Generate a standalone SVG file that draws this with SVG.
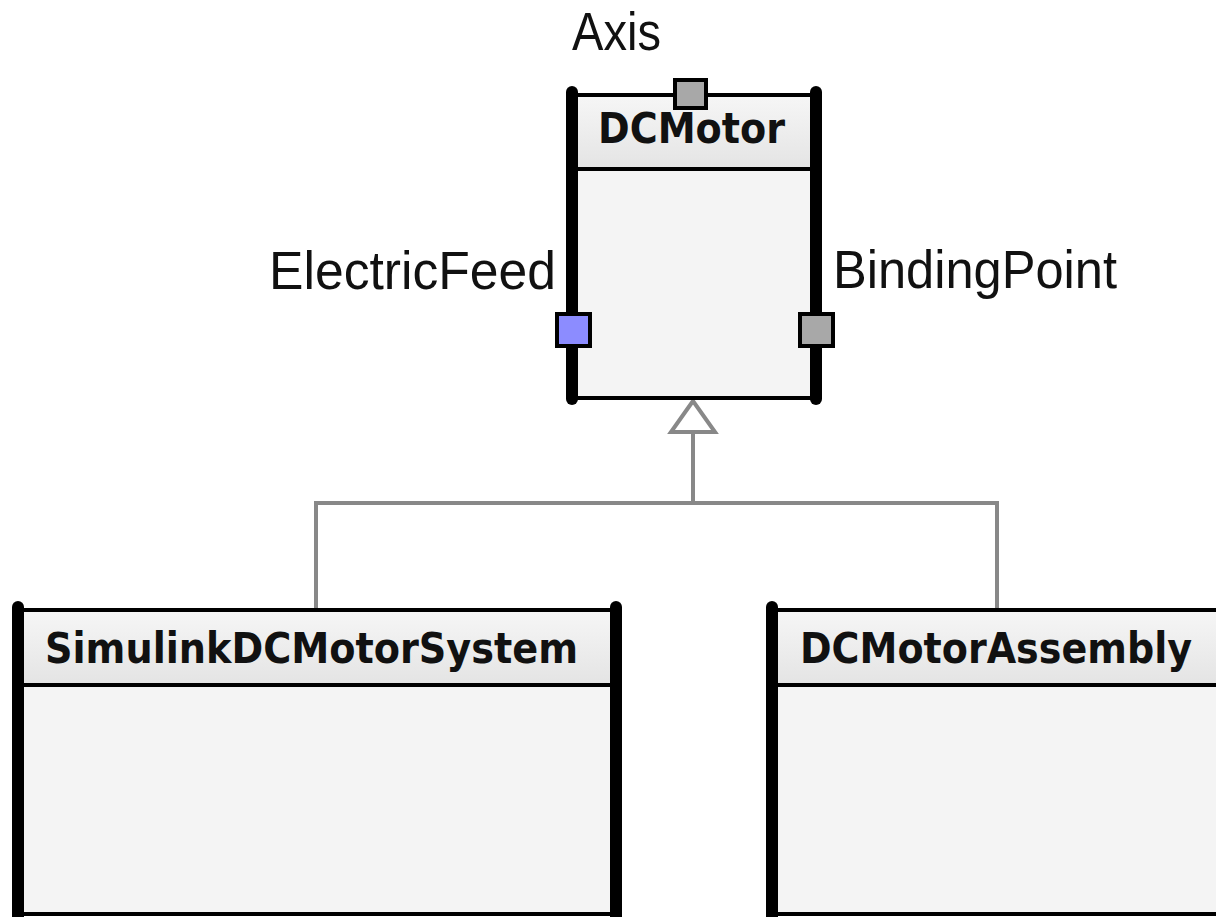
<svg xmlns="http://www.w3.org/2000/svg" width="1216" height="917" viewBox="0 0 1216 917">
<defs>
<linearGradient id="hdrGrad" x1="0" y1="0" x2="0" y2="1">
<stop offset="0" stop-color="#f6f6f6"/>
<stop offset="1" stop-color="#e4e4e4"/>
</linearGradient>
<style>
.body{fill:#f4f4f4;stroke:#000;stroke-width:4}
.hdr{fill:url(#hdrGrad);stroke:#000;stroke-width:4}
.bar{stroke:#000;stroke-width:12;stroke-linecap:round;fill:none}
.title{font-family:"DejaVu Sans","Liberation Sans",sans-serif;font-weight:bold;font-size:42px;fill:#111}
.label{font-family:"Liberation Sans","Arial",sans-serif;font-size:54px;fill:#111}
.port{stroke:#000;stroke-width:4}
.gray{fill:#a8a8a8}
.blue{fill:#8c8cff}
.conn{fill:none;stroke:#888;stroke-width:4}
</style>
</defs>
<rect width="1216" height="917" fill="#fff"/>

<g id="connectors">
<path class="conn" d="M693,432 V503 M316,610 V503 H997 V610"/>
<polygon points="693,401 671,432 715,432" fill="#fff" stroke="#888" stroke-width="4" stroke-linejoin="miter"/>
</g>

<g id="DCMotor">
<rect class="body" x="572" y="95" width="244" height="303"/>
<rect class="hdr" x="572" y="95" width="244" height="74"/>
<line class="bar" x1="572" y1="92" x2="572" y2="399"/>
<line class="bar" x1="816" y1="92" x2="816" y2="399"/>
<text class="title" x="598" y="143" textLength="187" lengthAdjust="spacingAndGlyphs">DCMotor</text>
<rect id="port-axis" class="port gray" x="675" y="80" width="31" height="28"/>
<rect id="port-electricfeed" class="port blue" x="557" y="314" width="33" height="32"/>
<rect id="port-bindingpoint" class="port gray" x="800" y="314" width="33" height="32"/>
<text class="label" x="572" y="50" textLength="89" lengthAdjust="spacingAndGlyphs">Axis</text>
<text class="label" x="269" y="289" textLength="287" lengthAdjust="spacingAndGlyphs">ElectricFeed</text>
<text class="label" x="833" y="288" textLength="284" lengthAdjust="spacingAndGlyphs">BindingPoint</text>
</g>

<g id="SimulinkDCMotorSystem">
<rect class="body" x="18" y="610" width="598" height="304"/>
<rect class="hdr" x="18" y="610" width="598" height="75"/>
<line class="bar" x1="18" y1="607" x2="18" y2="917"/>
<line class="bar" x1="616" y1="607" x2="616" y2="917"/>
<text class="title" x="45" y="663" textLength="533" lengthAdjust="spacingAndGlyphs">SimulinkDCMotorSystem</text>
</g>

<g id="DCMotorAssembly">
<rect class="body" x="772" y="610" width="500" height="304"/>
<rect class="hdr" x="772" y="610" width="500" height="75"/>
<line class="bar" x1="772" y1="607" x2="772" y2="917"/>
<text class="title" x="800" y="663" textLength="392" lengthAdjust="spacingAndGlyphs">DCMotorAssembly</text>
</g>
</svg>
